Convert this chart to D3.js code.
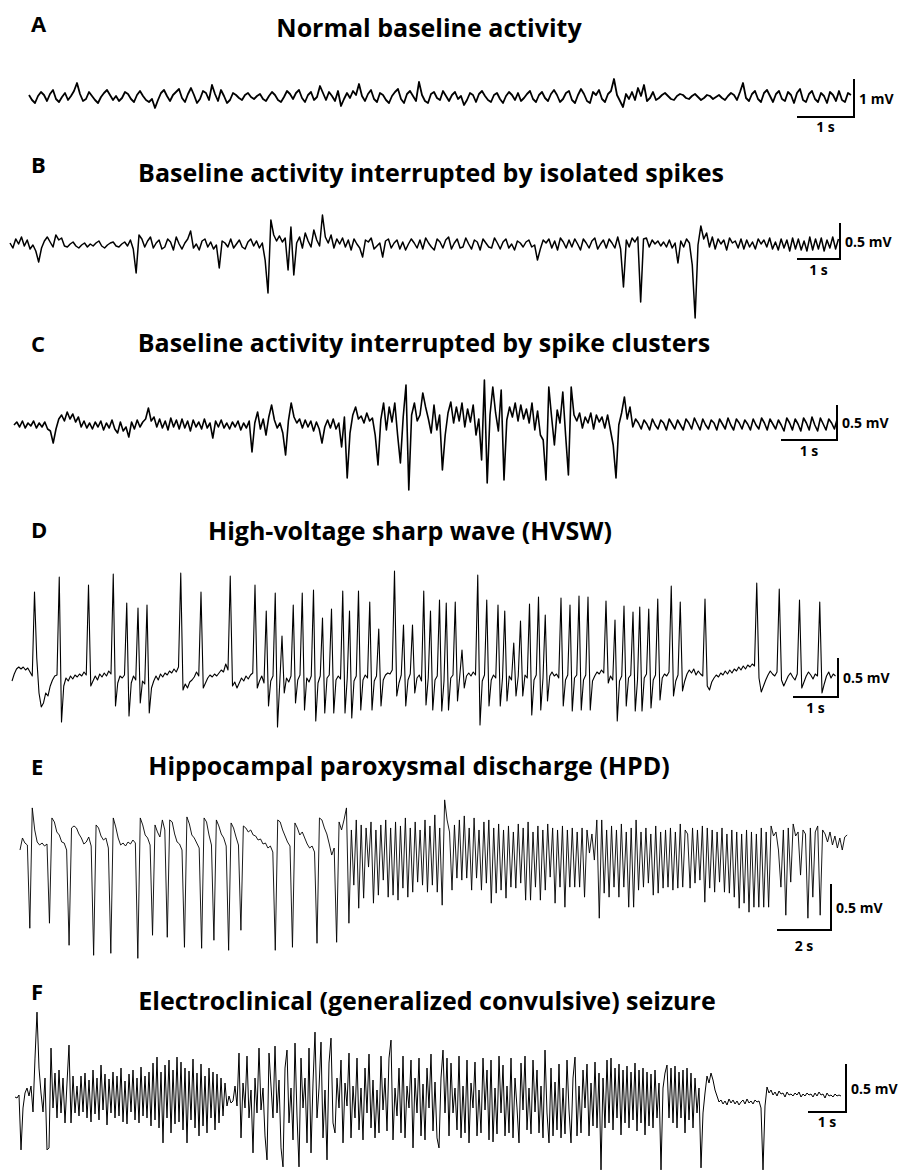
<!DOCTYPE html>
<html>
<head>
<meta charset="utf-8">
<script src="https://cdn.jsdelivr.net/npm/d3@7"></script>
<style>
  body { margin: 0; background: #fff; }
  text { font-family: "Open Sans", Lato, sans-serif; font-weight: bold; fill: #000; }
</style>
</head>
<body>
<svg id="chart" width="899" height="1172"></svg>
<script>
// raw EEG samples (ADC counts)
const traceA = [
  2,-3,-6,1,5,2,-4,3,7,-2, -5,0,4,-3,1,6,14,3,-4,-2, 5,1,-3,-6,0,4,7,2,-3,1, -4,-1,5,3,-2,-5,2,6,1,-3,
  -5,-2,-11,-3,4,7,1,-4,2,5, 8,-1,-5,3,9,2,-6,-2,6,4, -3,12,3,-4,7,1,-6,-3,4,2, -1,-3,2,4,0,-2,1,3,-2,-4,
  1,5,2,-3,-5,0,6,3,-2,4, 7,-1,-5,2,5,-3,0,11,4,-3, 5,1,-4,6,-9,-2,4,-1,6,2, 13,1,-4,3,7,-2,-5,4,2,-3,
  -6,1,5,8,-2,-6,3,6,1,-4, 15,2,-4,-6,3,5,-1,-3,6,1, -4,2,5,-2,1,-8,-3,4,2,-5, 3,6,1,-3,-5,2,4,-2,-6,1,
  5,2,-3,4,-4,-1,3,6,-2,-5, 2,5,-1,-4,3,7,2,-5,-2,4, 6,-3,-6,2,8,3,-4,-6,5,2, 7,-2,-5,3,6,18,2,-4,-10,3,
  -2,5,-3,9,1,12,-4,-1,5,-3, -1,2,4,1,-2,-3,1,3,2,-1, -2,1,3,0,-3,-1,2,1,-2,0, 2,-1,-3,1,4,2,-3,5,14,-1,
  -4,3,6,-2,-5,4,7,1,-5,3, 6,-2,-4,5,2,-6,4,8,-3,-5, 3,6,-2,-5,4,1,-6,5,2,-4, 6,-3,-5,4,2
];
const traceB = [
  2,-3,6,1,8,-1,5,-4,0,-6, -17,-3,4,8,3,-2,10,5,7,-1, -2,1,3,-1,-3,0,2,-2,1,-1, 2,4,-1,-3,0,2,3,-1,-2,1,
  3,-1,5,-4,-28,10,6,-2,4,8, -3,2,5,-4,-2,6,3,-5,8,1, -4,2,6,14,-3,1,-5,4,6,-2, 3,-4,0,-23,4,2,-2,6,-3,1,
  5,-2,-4,3,6,-1,4,-3,2,-15, -48,25,10,4,9,3,7,-25,18,-30, 2,8,-3,12,4,-2,15,5,-1,30, 8,2,10,-3,6,1,7,-2,5,-5,
  6,1,-3,-12,5,3,7,-4,-1,2, -12,4,6,-3,2,5,-4,3,-5,1, 6,2,-3,5,-4,7,2,-2,-5,6, 3,-3,5,8,-4,2,6,-3,-2,7,
  1,-4,5,3,-5,6,2,-2,-3,7, 2,-4,3,6,-3,1,-5,4,2,-2, 3,5,-2,0,-15,-4,5,2,6,-3, 4,-5,7,3,-3,5,-2,6,1,-5,
  6,2,-3,4,7,-4,1,5,-3,6, 2,-3,8,-4,-42,5,-2,7,3,8, -57,6,7,-2,5,1,4,-1,3,-2, 5,-3,2,-18,4,-2,6,2,-20,-73,
  0,19,6,12,-2,8,-4,6,1,5, -5,7,2,4,-3,6,-4,5,-2,3, -4,6,1,5,-2,7,-4,3,-5,6, -3,5,-6,7,-4,6,-5,4,-6,8,
  -5,6,-4,7,-6,5,-3,8,-4,6
];
const traceC = [
  0,3,-2,4,-3,2,-1,4,-3,2, -2,3,-4,-6,-18,-4,6,10,4,13, 6,11,3,8,-2,4,-3,2,-4,3, -2,4,-5,2,-3,5,-4,-8,3,-6,
  -2,-12,3,-4,5,-2,3,6,17,4, 8,-2,6,-3,4,-5,7,-2,5,-4, 6,-3,4,-6,5,-2,3,-4,6,-3, 2,-13,4,-2,5,-3,2,-4,3,-2,
  4,-5,2,-3,4,-27,2,13,-4,6, -10,8,20,5,-3,2,-8,-30,4,22, 8,2,6,-3,5,-2,4,-6,3,-4, -18,-2,5,-3,6,-4,2,-22,8,-53,
  -8,10,18,6,9,2,12,4,7,-10, -40,5,22,-5,18,3,22,-10,-38,8, 40,-65,10,22,4,10,32,18,6,-8, 20,-5,10,-45,-10,12,23,2,18,4,
  22,-2,16,3,20,-10,6,-35,45,-58, 10,38,12,-6,35,-55,5,18,8,22, 4,20,6,16,2,22,-5,14,-10,-15, -55,38,8,-20,15,2,33,-10,-50,38,
  10,4,12,-3,8,2,12,-4,10,3, 8,-3,10,-5,-20,-53,0,12,28,6, 18,-2,6,2,-4,5,1,-5,6,0, -4,5,2,-5,6,1,-4,5,0,-5,
  6,2,-4,7,1,-5,6,0,-4,5, 2,-5,6,1,-4,7,0,-5,6,2, -4,5,1,-5,6,0,-4,7,2,-5, 6,1,-4,5,0,-6,7,2,-5,6,
  1,-6,7,2,-5,8,0,-6,7,1, -5,6,2,-4,6
];
const traceD = [
  -3,4,9,11,9,11,8,10,6,2, 86,20,-15,-29,-25,-15,-18,-8,-2,2, 3,101,-44,-8,0,-3,2,-1,3,1, 4,2,6,3,93,-8,-3,2,-2,4,
  1,5,2,7,4,104,-28,-5,2,0, 3,75,-38,-5,2,-2,70,-25,-3,-6, 73,-35,-10,-3,2,-2,4,1,5,3, 7,5,9,6,11,105,-12,-6,-10,-4,
  -2,1,6,2,86,-10,-5,0,3,1, 4,2,5,8,6,14,8,102,-8,-4, -10,-5,0,-3,2,-1,3,5,93,-10, -3,2,-5,67,-28,-3,2,85,-49,-5,
  42,-15,0,-4,2,73,-25,-2,3,85, -32,0,-4,2,88,-43,-5,2,60,-35, 0,3,69,-35,-2,2,-1,87,-35,0, 67,-40,-3,2,87,-32,-2,3,0,76,
  -32,-3,2,49,-28,-2,3,5,4,8, 107,-18,-5,3,53,-28,-2,4,53,-15, 0,3,-3,87,-27,0,67,-32,-2,2, 78,-33,-3,75,-32,0,3,76,-23,2,
  28,-10,2,5,2,6,3,103,-47,-3, 3,78,-28,-2,3,0,73,-28,0,67, -23,2,-2,35,-18,2,57,-18,3,0, 74,-37,-2,3,81,-32,0,63,-23,2,
  6,2,4,0,80,-28,-2,3,73,-33, 0,3,82,-32,-2,3,81,-32,-3,2, 6,4,8,5,77,-5,2,-2,58,-43, -3,2,72,-28,0,3,66,-33,-2,71,
  -33,0,4,69,-30,-2,3,79,-22,0, 4,2,6,92,-18,-3,3,76,-13,-3, 4,8,5,9,3,7,4,2,79,-8, -12,-4,0,3,1,5,3,7,4,8,
  5,9,7,11,8,12,9,13,11,14, 12,95,0,-14,-8,-2,3,7,4,2, 6,89,-2,-8,-3,2,5,1,-2,4, 78,-10,-4,2,6,3,-1,4,2,76,
  -15,-6,2,6,0,4,2
];
const traceE = [
  -10,2,-3,-5,-88,32,10,-2,-5,-3, -6,-4,-83,22,18,8,5,-2,-3,-10, -105,12,14,12,6,2,-4,-2,3,-6, -115,15,12,4,0,2,-8,-113,22,13,
  2,-5,-3,-6,-2,-4,0,-3,-118,22, 15,5,2,-5,-95,15,8,3,20,10, -97,20,18,6,-2,-4,-10,-107,23,16, 5,2,-3,-8,-108,22,18,5,-5,-100,
  20,14,6,2,-6,-110,17,12,3,-5, -90,14,12,8,10,5,4,0,1,-4, -3,-8,-6,-12,-110,20,18,10,4,-2, -6,-107,17,12,5,8,2,-4,-8,-6,
  -12,-103,22,20,12,6,-4,-15,-8,-102, 18,10,20,32,-83,10,-45,20,-68,15, -58,12,-27,18,-63,10,-55,15,-40,20, -57,12,-55,18,-60,14,-48,22,-57,12,
  -52,18,-42,10,-45,20,-52,14,-45,25, -52,12,-65,40,20,8,-50,15,-38,20, -40,24,-38,12,-50,22,-38,10,-50,18, -43,20,-63,12,-53,16,-50,10,-58,14,
  -47,8,-48,16,-43,12,-60,18,-60,8, -47,14,-60,10,-50,16,-37,12,-63,10, -47,14,-67,10,-47,12,-47,8,-47,12, -57,10,-13,6,-20,20,-78,20,-53,10,
  -57,14,-47,10,-57,16,-47,8,-67,12, -67,20,-50,8,-47,12,-43,6,-55,14, -53,8,-48,10,-47,12,-50,8,-48,16, -47,10,6,-48,12,-43,10,-40,14,-62,
  12,-48,10,-52,8,-42,12,-52,6,-53, 10,-57,8,-68,6,-63,10,-72,8,-67, 6,-67,12,-67,8,-67,14,4,8,-10, -47,10,-75,12,-42,16,4,8,-35,10,
  6,-78,12,-57,8,14,-75,10,6,-2, 8,-5,4,-8,2,-10,3,5
];
const traceF = [
  1,0,3,-52,-10,5,10,2,12,-14, 40,86,30,5,-14,20,-52,-50,50,-10, 25,-20,28,-15,20,-25,15,53,-25,22, -15,
  12,-18,22,-14,25,-20,18,-24,28,-16,20,-22,33,-12,24,-27,19,-15,26,-20,22,-18,30,-24,17,-26,24,-14,28,-22,20,-25,31,-18,22,-20,26,
  -28,35,-22,41,-30,26,-45,33,-20,38,-35,28,-26,41,-24,36,-32,30,-45,27,-22,39,-30,25,-38,34,-28,22,-35,30,-20,26,-32,24,-25,20,-18,15,-8,2,
  -5,-3,12,-8,45,-40,15,-10,42,-20,8,-55,20,-15,50,-12,10,-38,-62,45,12,-20,52,-15,18,-50,-69,30,48,-25,10,-42,55,-18,-69,40,-10,20,-45,50,-55,15,66,-20,10,56,-40,8,-62,35,60,-25,
  -35,20,-10,38,-45,15,-8,45,-40,12,-20,40,-32,10,-42,30,-15,44,-30,18,-40,8,-35,42,-12,20,-33,40,58,-42,10,-18,30,-35,42,-40,12,-10,38,-50,20,-15,40,-38,14,-42,30,-10,44,-33,16,-40,-50,20,48,-15,40,-38,
  35,-15,10,-32,42,-40,12,-35,38,-45,15,-10,36,-38,8,-35,40,-12,28,-42,38,-44,10,-36,42,-15,33,-38,12,-35,40,-40,20,-10,-45,35,-12,42,-32,10,-36,38,-14,28,-35,12,-40,48,-15,-45,30,-38,16,-32,34,-40,10,-36,38,-12,-45,20,41,-38,12,-35,28,-10,34,-38,15,-28,36,-30,25,
  -72,
  20,-30,38,-25,40,-32,30,-20,34,-37,28,-25,32,-30,26,-22,35,-33,28,-25,30,-37,26,-28,24,-30,28,-20,15,
  -72,
  10,25,33,-20,30,-25,32,-30,26,-20,28,-35,30,-22,25,-30,20,-15,10,
  -70,
  -15,5,22,15,25,18,8,2,
  -4,-2,-6,-3,-7,-1,-5,-2,-6,-3,-7,-4,-2,-6,-1,-5,-3,-6,-2,-4,-3,
  -10,-72,-8,11,
  5,8,3,6,2,7,4,5,1,6,3,4,2,5,3,6,1,4,2,5,3,4,1,5,2,6,3,4,0,5,2,3,1,4,2,3,2
];

const panelLetters = ["A", "B", "C", "D", "E", "F"];
const panelTitles = [
  "Normal baseline activity",
  "Baseline activity interrupted by isolated spikes",
  "Baseline activity interrupted by spike clusters",
  "High-voltage sharp wave (HVSW)",
  "Hippocampal paroxysmal discharge (HPD)",
  "Electroclinical (generalized convulsive) seizure"
];
const sampleRates = [19, 15, 20, 20, 11, 19];          // Hz
const gains = [26.3, 13.9, 14.3, 12.8, 10.9, 10.4];    // µV per count
const barMillivolts = [1, 0.5, 0.5, 0.5, 0.5, 0.5];
const barSeconds = [1, 1, 1, 1, 2, 1];

const traces = [traceA, traceB, traceC, traceD, traceE, traceF];

// page layout per panel
const layout = [
  {x0: 29, y0: 97,   pxPerSec: 57, pxPerMV: 38, barX: 854, barY: 117,  tDy: 15, letterY: 32,   titleX: 429, titleY: 37,   lw: 1.8},
  {x0: 10, y0: 245,  pxPerSec: 43, pxPerMV: 72, barX: 840, barY: 259,  tDy: 16, letterY: 173,  titleX: 431, titleY: 182,  lw: 1.5},
  {x0: 14, y0: 425,  pxPerSec: 56, pxPerMV: 70, barX: 837, barY: 440,  tDy: 16, letterY: 352,  titleX: 424, titleY: 352,  lw: 1.6},
  {x0: 12, y0: 678,  pxPerSec: 45, pxPerMV: 78, barX: 838, barY: 697,  tDy: 16, letterY: 538,  titleX: 410, titleY: 540,  lw: 1.1},
  {x0: 20, y0: 840,  pxPerSec: 27, pxPerMV: 92, barX: 831, barY: 930,  tDy: 21, letterY: 775,  titleX: 409, titleY: 775,  lw: 0.9},
  {x0: 15, y0: 1098, pxPerSec: 38, pxPerMV: 96, barX: 846, barY: 1112, tDy: 15, letterY: 1000, titleX: 427, titleY: 1010, lw: 1.0}
];

const svg = d3.select("#chart");

traces.forEach(function (samples, p) {
  const L = layout[p];
  const fs = sampleRates[p];
  const g = svg.append("g").attr("class", "panel-" + panelLetters[p]);

  const x = d3.scaleLinear().domain([0, 1]).range([L.x0, L.x0 + L.pxPerSec]);
  const y = d3.scaleLinear().domain([0, 1]).range([L.y0, L.y0 - L.pxPerMV]);

  g.append("text")
    .attr("x", 31).attr("y", L.letterY)
    .attr("font-size", 22)
    .text(panelLetters[p]);

  g.append("text")
    .attr("x", L.titleX).attr("y", L.titleY)
    .attr("text-anchor", "middle")
    .attr("font-size", 25)
    .text(panelTitles[p]);

  const line = d3.line()
    .x((d, i) => x(i / fs))
    .y(d => y(d * gains[p] / 1000));

  g.append("path")
    .datum(samples)
    .attr("d", line)
    .attr("fill", "none")
    .attr("stroke", "#000")
    .attr("stroke-width", L.lw)
    .attr("stroke-linejoin", "round");

  // calibration bar
  const hLen = x(barSeconds[p]) - x(0);
  const vLen = y(0) - y(barMillivolts[p]);
  g.append("path")
    .attr("d", "M" + (L.barX - hLen) + "," + L.barY + "H" + L.barX + "V" + (L.barY - vLen))
    .attr("fill", "none")
    .attr("stroke", "#000")
    .attr("stroke-width", 2);

  g.append("text")
    .attr("x", L.barX + 5).attr("y", L.barY - vLen / 2)
    .attr("dominant-baseline", "central")
    .attr("font-size", 14)
    .text(barMillivolts[p] + " mV");

  g.append("text")
    .attr("x", L.barX - hLen / 2).attr("y", L.barY + L.tDy)
    .attr("text-anchor", "middle")
    .attr("font-size", 14)
    .text(barSeconds[p] + " s");
});
</script>
</body>
</html>
